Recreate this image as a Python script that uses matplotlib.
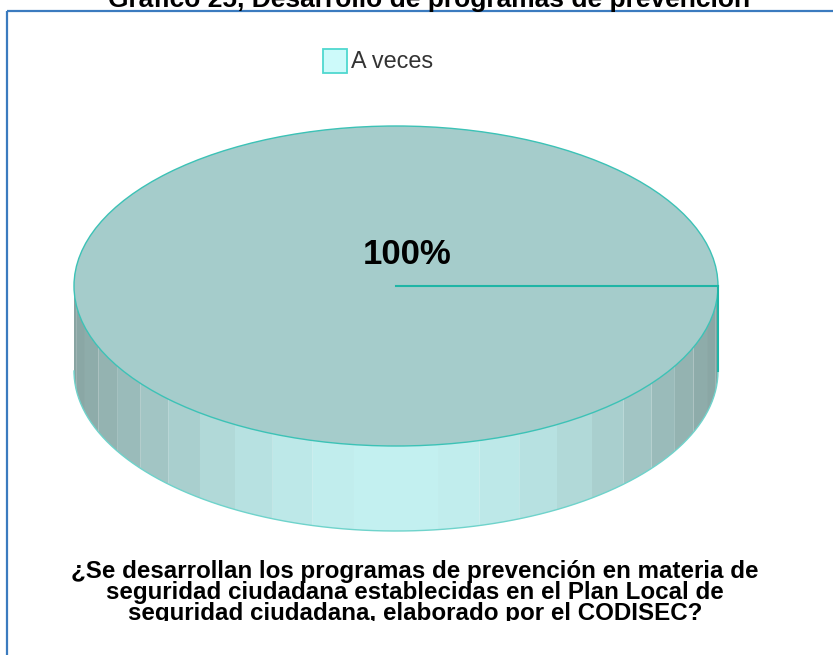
import numpy as np
import matplotlib.pyplot as plt
from matplotlib.patches import Wedge, Ellipse, Polygon, Rectangle
from matplotlib.transforms import Affine2D, Bbox
from matplotlib.colors import to_rgb

# datos del grafico
categories = ['A veces']
values = [100]
top_colors = ['#a5cccb']
side_colors = ['#c3f0f0']
legend_colors = ['#cdfafa']

title = 'Gráfico 25, Desarrollo de programas de prevención'
question = ['¿Se desarrollan los programas de prevención en materia de',
            'seguridad ciudadana establecidas en el Plan Local de',
            'seguridad ciudadana, elaborado por el CODISEC?']

fig = plt.figure(figsize=(8.33, 6.55), dpi=100)
ax = fig.add_axes([0, 0, 1, 1])
ax.set_xlim(0, 833)
ax.set_ylim(655, 0)
ax.axis('off')

# marco azul
ax.add_patch(Rectangle((7, 11), 900, 700, fill=False, ec='#3b7bbf', lw=1.6))

# titulo (cortado arriba)
ax.text(429, 7, title, ha='center', va='baseline', fontsize=19,
        fontweight='bold', family='Liberation Sans', color='black')

# pastel 3D
cx, cy, rx, ry, depth = 396, 286, 322, 160, 85
ell = Affine2D().scale(rx, ry).translate(cx, cy) + ax.transData

total = sum(values)
angles = np.concatenate([[0], np.cumsum(values) / total * 360])
dark = np.array(to_rgb('#88a4a2'))


def shade(col, t):
    f = np.sin(np.radians(t)) ** 2
    return tuple(dark + (np.array(to_rgb(col)) - dark) * f)


step = 7.5
for i in range(len(values)):
    a0, a1 = angles[i], angles[i + 1]
    s0, s1 = max(a0, 0), min(a1, 180)
    edges = np.arange(0, 180 + step, step)
    edges = edges[(edges > s0) & (edges < s1)]
    cuts = np.concatenate([[s0], edges, [s1]])
    for t0, t1 in zip(cuts[:-1], cuts[1:]):
        th = np.radians(np.linspace(t0, t1, 10))
        xs = cx + rx * np.cos(th)
        ys = cy + ry * np.sin(th)
        pts = np.column_stack([np.concatenate([xs, xs[::-1]]),
                               np.concatenate([ys, ys[::-1] + depth])])
        ax.add_patch(Polygon(pts, closed=True, fc=shade(side_colors[i], (t0 + t1) / 2),
                             ec='none', zorder=2))

th = np.radians(np.linspace(0, 180, 200))
ax.plot(cx + rx * np.cos(th), cy + depth + ry * np.sin(th), color='#6fd3cb', lw=1.0, zorder=3)

for i in range(len(values)):
    ax.add_patch(Wedge((0, 0), 1, angles[i], angles[i + 1], transform=ell,
                       fc=top_colors[i], ec='none', zorder=4))
ax.add_patch(Ellipse((cx, cy), 2 * rx, 2 * ry, fill=False, ec='#3cc2b6', lw=1.0, zorder=5))

for a in angles[:-1]:
    r = np.radians(a)
    ex, ey = cx + rx * np.cos(r), cy + ry * np.sin(r)
    ax.plot([cx, ex], [cy, ey], color='#1fb5a6', lw=1.5, zorder=6)
    if 0 <= a % 360 <= 180:
        ax.plot([ex, ex], [ey, ey + depth], color='#1fb5a6', lw=1.5, zorder=6)

for i, v in enumerate(values):
    ax.text(cx + 11, cy - 32, f'{v / total * 100:.0f}%', ha='center', va='center',
            fontsize=25, fontweight='bold', family='Liberation Sans', zorder=7)

# leyenda
for i, cat in enumerate(categories):
    ax.add_patch(Rectangle((323, 49), 24, 24, fc=legend_colors[i], ec='#4fd8cf', lw=1.3))
    ax.text(351, 62, cat, ha='left', va='center', fontsize=16.8,
            family='Liberation Sans', color='#333333')

# pregunta
clip = Bbox.from_extents(0, 655 - 621, 833, 655)
for k, line in enumerate(question):
    t = ax.text(415, 578 + 21 * k, line, ha='center', va='baseline', fontsize=17.4,
                fontweight='bold', family='Liberation Sans', color='black')
    t.set_clip_box(clip)
    t.set_clip_on(True)

fig.savefig('out.png', dpi=100)
